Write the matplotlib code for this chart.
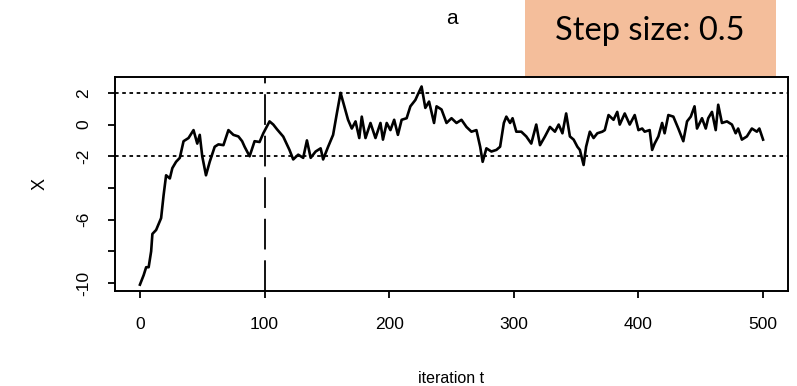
import matplotlib.pyplot as plt
from matplotlib.patches import Rectangle

# valeurs (itération, X)
iterations = [0, 3, 5, 7, 9, 10, 13, 17, 19, 21, 24, 26, 29, 32, 35, 39, 43, 46, 48, 50,
              53, 56, 60, 63, 67, 71, 75, 79, 82, 84, 88, 92, 96, 99, 104, 107, 110, 115,
              120, 123, 127, 131, 134, 137, 141, 145, 147, 151, 155, 158, 161, 164, 167,
              170, 173, 176, 178, 181, 185, 189, 193, 195, 198, 201, 204, 207, 210, 214,
              217, 221, 223, 226, 229, 232, 236, 238, 242, 246, 250, 254, 258, 262, 266,
              270, 273, 275, 278, 282, 286, 289, 292, 294, 297, 299, 302, 306, 310, 314,
              318, 321, 325, 329, 333, 336, 339, 342, 345, 348, 351, 353, 356, 358, 361,
              364, 367, 371, 373, 376, 380, 383, 385, 389, 393, 397, 400, 403, 405, 409,
              411, 413, 416, 419, 421, 424, 428, 432, 436, 439, 442, 445, 447, 451, 454,
              456, 459, 462, 464, 467, 471, 475, 478, 480, 483, 487, 491, 495, 497, 500]
x_vals = [-10.1, -9.5, -9.0, -9.0, -8.0, -6.9, -6.65, -5.9, -4.45, -3.2, -3.4, -2.75, -2.35,
          -2.1, -1.05, -0.85, -0.35, -1.2, -0.65, -2.0, -3.2, -2.35, -1.4, -1.25, -1.3,
          -0.35, -0.65, -0.75, -1.05, -1.4, -2.0, -1.05, -1.1, -0.55, 0.2, 0.0, -0.3,
          -0.76, -1.6, -2.2, -1.9, -2.1, -1.0, -2.1, -1.7, -1.5, -2.2, -1.4, -0.65, 0.7,
          2.0, 1.15, 0.3, -0.25, 0.2, -0.85, 0.5, -0.85, 0.1, -0.85, 0.1, -0.95, 0.1,
          -0.35, 0.3, -0.65, 0.3, 0.4, 1.15, 1.55, 1.9, 2.4, 1.05, 1.45, 0.1, 1.15, 0.95,
          0.1, 0.4, 0.1, 0.3, -0.15, -0.45, -0.35, -1.4, -2.35, -1.5, -1.7, -1.6, -1.4,
          0.1, 0.5, 0.1, 0.4, -0.45, -0.45, -0.75, -1.2, 0.0, -1.3, -0.75, -0.15, -0.45,
          0.0, -0.55, 0.7, -0.75, -0.95, -1.4, -1.6, -2.55, -1.4, -0.45, -0.85, -0.55,
          -0.45, -0.35, 0.6, 0.3, 0.8, 0.0, 0.7, 0.0, 0.6, -0.35, -0.25, -0.45, -0.35,
          -1.6, -1.2, -0.75, 0.1, -0.55, 0.6, 0.5, -0.25, -1.05, 0.2, 0.5, 1.15, -0.25,
          0.4, -0.25, 0.4, 0.8, -0.35, 1.25, 0.1, 0.2, 0.0, -0.55, -0.25, -0.95, -0.75,
          -0.25, -0.45, -0.25, -0.95]

yticks = [2, 0, -2, -4, -6, -8, -10]
ytick_labels = ['2', '0', '-2', '', '-6', '', '-10']
xticks = [0, 100, 200, 300, 400, 500]
bornes = [2, -2]
burn_in = 100

plt.rcParams['font.family'] = ['Liberation Sans', 'DejaVu Sans']

W, H = 797, 386
fig = plt.figure(figsize=(W / 100, H / 100), dpi=100)
ax = fig.add_axes([115 / W, 1 - 291 / H, (788 - 115) / W, (291 - 77) / H])

ax.plot(iterations, x_vals, color='black', lw=1.9, zorder=3)
for b in bornes:
    ax.axhline(b, color='black', lw=1.3, linestyle=(0, (2, 2)))
ax.axvline(burn_in, color='black', lw=1.3, linestyle=(0, (17, 6)))

ax.set_xlim(-20, 520)
ax.set_ylim(-10.5, 3.0)
ax.set_xticks(xticks)
ax.set_yticks(yticks)
ax.set_yticklabels(ytick_labels, rotation=90, va='center')
ax.tick_params(direction='out', length=5, width=1.3, labelsize=12.5)
ax.tick_params(axis='x', pad=14)
ax.tick_params(axis='y', pad=12)
for s in ax.spines.values():
    s.set_linewidth(1.4)

ax.set_xlabel('iteration t', fontsize=11.5, labelpad=28)
ax.set_ylabel('X', fontsize=13, labelpad=20)

fig.text(452 / W, 1 - 18 / H, 'a', ha='center', va='center', fontsize=15)

# encadré orange
fig.patches.append(Rectangle((525 / W, 1 - 76 / H), (776 - 525) / W, 76 / H,
                             transform=fig.transFigure, facecolor='#F4BE9B',
                             edgecolor='none', zorder=5))
fig.text(650 / W, 1 - 31 / H, 'Step size: 0.5', ha='center', va='center',
         fontsize=23.5, family=['Lato', 'DejaVu Sans'], zorder=6)

fig.savefig('out.png', dpi=100)
